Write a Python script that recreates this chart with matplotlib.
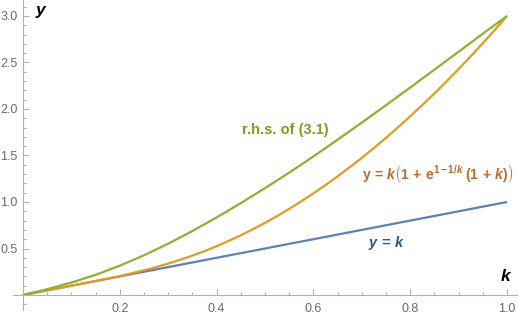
import matplotlib
matplotlib.use("Agg")
import matplotlib.pyplot as plt
from matplotlib.ticker import MultipleLocator, FixedLocator

plt.rcParams["font.family"] = ["Liberation Sans", "DejaVu Sans"]
plt.rcParams["mathtext.fontset"] = "custom"
plt.rcParams["mathtext.rm"] = "Liberation Sans:bold"
plt.rcParams["mathtext.it"] = "Liberation Sans:bold:italic"
plt.rcParams["mathtext.bf"] = "Liberation Sans:bold"

# values
k_line = [0.0, 1.0]
y_line = [0.0, 1.0]

k_exp = [0.0, 0.05, 0.1, 0.15, 0.2, 0.225, 0.25, 0.275, 0.3, 0.325, 0.35, 0.375,
         0.4, 0.425, 0.45, 0.475, 0.5, 0.525, 0.55, 0.575, 0.6, 0.625, 0.65, 0.675,
         0.7, 0.725, 0.75, 0.775, 0.8, 0.825, 0.85, 0.875, 0.9, 0.925, 0.95, 0.975, 1.0]
y_exp = [0.0, 0.05, 0.100, 0.151, 0.204, 0.234, 0.266, 0.300, 0.338, 0.379, 0.424, 0.472,
         0.525, 0.582, 0.642, 0.707, 0.776, 0.849, 0.926, 1.008, 1.093, 1.182, 1.276, 1.374,
         1.475, 1.581, 1.690, 1.804, 1.922, 2.043, 2.168, 2.297, 2.430, 2.567, 2.708, 2.852, 3.0]

k_rhs = [0.0, 0.05, 0.1, 0.15, 0.2, 0.25, 0.3, 0.35, 0.4, 0.45, 0.5,
         0.55, 0.6, 0.65, 0.7, 0.75, 0.8, 0.85, 0.9, 0.95, 1.0]
y_rhs = [0.0, 0.062, 0.134, 0.217, 0.315, 0.427, 0.552, 0.688, 0.834, 0.988, 1.149,
         1.316, 1.490, 1.670, 1.854, 2.041, 2.231, 2.423, 2.616, 2.810, 3.0]

x_ticks = [0.2, 0.4, 0.6, 0.8, 1.0]
y_ticks = [0.5, 1.0, 1.5, 2.0, 2.5, 3.0]

blue = "#5E81B5"
orange = "#E19C24"
green = "#8FB032"
axis_gray = "#b0b0b0"
label_gray = "#6a6a6a"

fig = plt.figure(figsize=(5.18, 3.17), dpi=100)
W, H = 518, 317
# pixel layout: k=0 at x=23, k=1 at x=507 ; y=0 at 295, y=3 at 16
xl = (13 - 23) / 484, (518 - 23) / 484
yl = (295 - 310) / 93, (295 - 0) / 93
ax = fig.add_axes([13 / W, (317 - 310) / H, 505 / W, 310 / H])
ax.set_xlim(*xl)
ax.set_ylim(*yl)

ax.plot(k_line, y_line, color=blue, lw=1.6, solid_capstyle="butt")
ax.plot(k_exp, y_exp, color=orange, lw=1.6, solid_capstyle="butt")
ax.plot(k_rhs, y_rhs, color=green, lw=1.6, solid_capstyle="butt")

for s in ["top", "right"]:
    ax.spines[s].set_visible(False)
for s in ["left", "bottom"]:
    ax.spines[s].set_position(("data", 0))
    ax.spines[s].set_color(axis_gray)
    ax.spines[s].set_linewidth(0.8)

ax.xaxis.set_major_locator(FixedLocator(x_ticks))
ax.yaxis.set_major_locator(FixedLocator(y_ticks))
ax.xaxis.set_minor_locator(MultipleLocator(0.05))
ax.yaxis.set_minor_locator(MultipleLocator(0.1))
ax.set_xticklabels([f"{v:.1f}" for v in x_ticks])
ax.set_yticklabels([f"{v:.1f}" for v in y_ticks])
ax.tick_params(which="both", direction="in", color=axis_gray, width=0.8,
               labelcolor=label_gray, labelsize=9)
ax.tick_params(which="major", length=4)
ax.tick_params(which="minor", length=2.2)
ax.tick_params(axis="x", pad=6)
ax.tick_params(axis="y", pad=4)

ax.text(0.0386, 3.046, "$y$", fontsize=12.5, ha="center", va="center", color="black")
ax.text(0.998, 0.20, "$k$", fontsize=12.5, ha="center", va="center", color="black")

ax.text(0.543, 1.774, "r.h.s. of (3.1)", fontsize=10.5, fontweight="bold",
        color="#77A01F", ha="center", va="center")
ax.text(0.857, 1.30,
        r"$\mathrm{y}\,=\,k\left(1\,+\,\mathrm{e}^{1-1/k}_{\ }\;(1\,+\,k)\right)$",
        fontsize=10, color="#C0682A", ha="center", va="center")
ax.text(0.752, 0.56, r"$y\,=\,k$", fontsize=10.5, color="#2F5C7A", ha="center", va="center")

fig.savefig("out.png", dpi=100)
